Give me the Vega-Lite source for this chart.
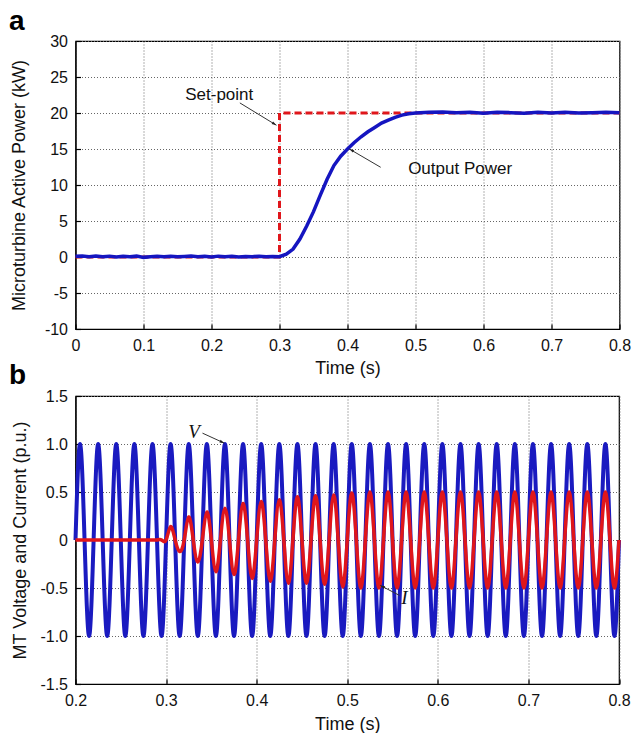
{
  "$schema": "https://vega.github.io/schema/vega-lite/v6.json",
  "background": "white",
  "padding": {"left": 7.5, "top": 7, "right": 2, "bottom": 1},
  "spacing": -17,
  "datasets": {
    "power": [
      {"t":0,"y":0.1},{"t":0.01,"y":0.15},{"t":0.02,"y":0.05},{"t":0.03,"y":0.15},{"t":0.04,"y":0.05},{"t":0.05,"y":0.12},{"t":0.06,"y":0.0},{"t":0.07,"y":0.1},{"t":0.08,"y":0.05},{"t":0.09,"y":0.12},
      {"t":0.1,"y":-0.05},{"t":0.11,"y":0.05},{"t":0.12,"y":0.12},{"t":0.13,"y":0.02},{"t":0.14,"y":0.1},{"t":0.15,"y":0.02},{"t":0.16,"y":0.08},{"t":0.17,"y":0.14},{"t":0.18,"y":0.05},{"t":0.19,"y":0.1},
      {"t":0.2,"y":0.0},{"t":0.21,"y":0.12},{"t":0.22,"y":0.05},{"t":0.23,"y":0.1},{"t":0.24,"y":0.0},{"t":0.25,"y":0.08},{"t":0.26,"y":0.05},{"t":0.27,"y":0.12},{"t":0.28,"y":0.02},{"t":0.29,"y":0.08},
      {"t":0.3,"y":0.05},{"t":0.31,"y":0.4},{"t":0.32,"y":1.1},{"t":0.33,"y":2.5},{"t":0.34,"y":4.3},{"t":0.35,"y":6.3},{"t":0.36,"y":8.6},{"t":0.37,"y":10.8},{"t":0.38,"y":12.7},{"t":0.39,"y":14.0},
      {"t":0.4,"y":15.0},{"t":0.41,"y":15.9},{"t":0.42,"y":16.7},{"t":0.43,"y":17.4},{"t":0.44,"y":18.0},{"t":0.45,"y":18.6},{"t":0.46,"y":19.0},{"t":0.47,"y":19.4},{"t":0.48,"y":19.7},{"t":0.49,"y":19.9},
      {"t":0.5,"y":20.0},{"t":0.52,"y":20.1},{"t":0.54,"y":20.15},{"t":0.56,"y":20.05},{"t":0.58,"y":20.1},{"t":0.6,"y":19.95},{"t":0.62,"y":20.1},{"t":0.64,"y":20.05},{"t":0.66,"y":19.95},{"t":0.68,"y":20.1},
      {"t":0.7,"y":20.0},{"t":0.72,"y":20.1},{"t":0.74,"y":20.0},{"t":0.76,"y":20.05},{"t":0.78,"y":20.1},{"t":0.8,"y":20.05}
    ],
    "setpoint": [
      {"t":0,"y":0},{"t":0.3,"y":0},{"t":0.3,"y":20},{"t":0.8,"y":20}
    ],
    "textA": [
      {"t":0.2114,"y":22.5,"label":"Set-point"},
      {"t":0.5656,"y":12.2,"label":"Output Power"}
    ],
    "arrowsA": [
      {"name":"set","t":0.2417,"y":21.4,"t2":0.2955,"y2":18.3},
      {"name":"out","t":0.4488,"y":12.46,"t2":0.4028,"y2":15.0}
    ],
    "headsA": [
      {"name":"set","t":0.2955,"y":18.3},
      {"name":"out","t":0.4028,"y":15.0}
    ],
    "V": [
      {"t":0.2,"y":0},{"t":0.205,"y":1},{"t":0.21,"y":0},{"t":0.215,"y":-1},
      {"t":0.22,"y":0},{"t":0.225,"y":1},{"t":0.23,"y":0},{"t":0.235,"y":-1},
      {"t":0.24,"y":0},{"t":0.245,"y":1},{"t":0.25,"y":0},{"t":0.255,"y":-1},
      {"t":0.26,"y":0},{"t":0.265,"y":1},{"t":0.27,"y":0},{"t":0.275,"y":-1},
      {"t":0.28,"y":0},{"t":0.285,"y":1},{"t":0.29,"y":0},{"t":0.295,"y":-1},
      {"t":0.3,"y":0},{"t":0.305,"y":1},{"t":0.31,"y":0},{"t":0.315,"y":-1},
      {"t":0.32,"y":0},{"t":0.325,"y":1},{"t":0.33,"y":0},{"t":0.335,"y":-1},
      {"t":0.34,"y":0},{"t":0.345,"y":1},{"t":0.35,"y":0},{"t":0.355,"y":-1},
      {"t":0.36,"y":0},{"t":0.365,"y":1},{"t":0.37,"y":0},{"t":0.375,"y":-1},
      {"t":0.38,"y":0},{"t":0.385,"y":1},{"t":0.39,"y":0},{"t":0.395,"y":-1},
      {"t":0.4,"y":0},{"t":0.405,"y":1},{"t":0.41,"y":0},{"t":0.415,"y":-1},
      {"t":0.42,"y":0},{"t":0.425,"y":1},{"t":0.43,"y":0},{"t":0.435,"y":-1},
      {"t":0.44,"y":0},{"t":0.445,"y":1},{"t":0.45,"y":0},{"t":0.455,"y":-1},
      {"t":0.46,"y":0},{"t":0.465,"y":1},{"t":0.47,"y":0},{"t":0.475,"y":-1},
      {"t":0.48,"y":0},{"t":0.485,"y":1},{"t":0.49,"y":0},{"t":0.495,"y":-1},
      {"t":0.5,"y":0},{"t":0.505,"y":1},{"t":0.51,"y":0},{"t":0.515,"y":-1},
      {"t":0.52,"y":0},{"t":0.525,"y":1},{"t":0.53,"y":0},{"t":0.535,"y":-1},
      {"t":0.54,"y":0},{"t":0.545,"y":1},{"t":0.55,"y":0},{"t":0.555,"y":-1},
      {"t":0.56,"y":0},{"t":0.565,"y":1},{"t":0.57,"y":0},{"t":0.575,"y":-1},
      {"t":0.58,"y":0},{"t":0.585,"y":1},{"t":0.59,"y":0},{"t":0.595,"y":-1},
      {"t":0.6,"y":0},{"t":0.605,"y":1},{"t":0.61,"y":0},{"t":0.615,"y":-1},
      {"t":0.62,"y":0},{"t":0.625,"y":1},{"t":0.63,"y":0},{"t":0.635,"y":-1},
      {"t":0.64,"y":0},{"t":0.645,"y":1},{"t":0.65,"y":0},{"t":0.655,"y":-1},
      {"t":0.66,"y":0},{"t":0.665,"y":1},{"t":0.67,"y":0},{"t":0.675,"y":-1},
      {"t":0.68,"y":0},{"t":0.685,"y":1},{"t":0.69,"y":0},{"t":0.695,"y":-1},
      {"t":0.7,"y":0},{"t":0.705,"y":1},{"t":0.71,"y":0},{"t":0.715,"y":-1},
      {"t":0.72,"y":0},{"t":0.725,"y":1},{"t":0.73,"y":0},{"t":0.735,"y":-1},
      {"t":0.74,"y":0},{"t":0.745,"y":1},{"t":0.75,"y":0},{"t":0.755,"y":-1},
      {"t":0.76,"y":0},{"t":0.765,"y":1},{"t":0.77,"y":0},{"t":0.775,"y":-1},
      {"t":0.78,"y":0},{"t":0.785,"y":1},{"t":0.79,"y":0},{"t":0.795,"y":-1},
      {"t":0.8,"y":0}
    ],
    "I": [
      {"t":0.2,"y":0},{"t":0.205,"y":0},{"t":0.21,"y":0},{"t":0.215,"y":0},
      {"t":0.22,"y":0},{"t":0.225,"y":0},{"t":0.23,"y":0},{"t":0.235,"y":0},
      {"t":0.24,"y":0},{"t":0.245,"y":0},{"t":0.25,"y":0},{"t":0.255,"y":0},
      {"t":0.26,"y":0},{"t":0.265,"y":0},{"t":0.27,"y":0},{"t":0.275,"y":0},
      {"t":0.28,"y":0},{"t":0.285,"y":0},{"t":0.29,"y":0},{"t":0.295,"y":0},
      {"t":0.3,"y":0},{"t":0.305,"y":0.14},{"t":0.31,"y":0},{"t":0.315,"y":-0.12},
      {"t":0.32,"y":0},{"t":0.325,"y":0.24},{"t":0.33,"y":0},{"t":0.335,"y":-0.23},
      {"t":0.34,"y":0},{"t":0.345,"y":0.29},{"t":0.35,"y":0},{"t":0.355,"y":-0.33},
      {"t":0.36,"y":0},{"t":0.365,"y":0.33},{"t":0.37,"y":0},{"t":0.375,"y":-0.36},
      {"t":0.38,"y":0},{"t":0.385,"y":0.38},{"t":0.39,"y":0},{"t":0.395,"y":-0.4},
      {"t":0.4,"y":0},{"t":0.405,"y":0.4},{"t":0.41,"y":0},{"t":0.415,"y":-0.43},
      {"t":0.42,"y":0},{"t":0.425,"y":0.42},{"t":0.43,"y":0},{"t":0.435,"y":-0.45},
      {"t":0.44,"y":0},{"t":0.445,"y":0.45},{"t":0.45,"y":0},{"t":0.455,"y":-0.45},
      {"t":0.46,"y":0},{"t":0.465,"y":0.46},{"t":0.47,"y":0},{"t":0.475,"y":-0.46},
      {"t":0.48,"y":0},{"t":0.485,"y":0.47},{"t":0.49,"y":0},{"t":0.495,"y":-0.49},
      {"t":0.5,"y":0},{"t":0.505,"y":0.49},{"t":0.51,"y":0},{"t":0.515,"y":-0.5},
      {"t":0.52,"y":0},{"t":0.525,"y":0.5},{"t":0.53,"y":0},{"t":0.535,"y":-0.5},
      {"t":0.54,"y":0},{"t":0.545,"y":0.5},{"t":0.55,"y":0},{"t":0.555,"y":-0.5},
      {"t":0.56,"y":0},{"t":0.565,"y":0.5},{"t":0.57,"y":0},{"t":0.575,"y":-0.5},
      {"t":0.58,"y":0},{"t":0.585,"y":0.5},{"t":0.59,"y":0},{"t":0.595,"y":-0.5},
      {"t":0.6,"y":0},{"t":0.605,"y":0.5},{"t":0.61,"y":0},{"t":0.615,"y":-0.5},
      {"t":0.62,"y":0},{"t":0.625,"y":0.5},{"t":0.63,"y":0},{"t":0.635,"y":-0.5},
      {"t":0.64,"y":0},{"t":0.645,"y":0.5},{"t":0.65,"y":0},{"t":0.655,"y":-0.5},
      {"t":0.66,"y":0},{"t":0.665,"y":0.5},{"t":0.67,"y":0},{"t":0.675,"y":-0.5},
      {"t":0.68,"y":0},{"t":0.685,"y":0.5},{"t":0.69,"y":0},{"t":0.695,"y":-0.5},
      {"t":0.7,"y":0},{"t":0.705,"y":0.5},{"t":0.71,"y":0},{"t":0.715,"y":-0.5},
      {"t":0.72,"y":0},{"t":0.725,"y":0.5},{"t":0.73,"y":0},{"t":0.735,"y":-0.5},
      {"t":0.74,"y":0},{"t":0.745,"y":0.5},{"t":0.75,"y":0},{"t":0.755,"y":-0.5},
      {"t":0.76,"y":0},{"t":0.765,"y":0.5},{"t":0.77,"y":0},{"t":0.775,"y":-0.5},
      {"t":0.78,"y":0},{"t":0.785,"y":0.5},{"t":0.79,"y":0},{"t":0.795,"y":-0.5},
      {"t":0.8,"y":0}
    ],
    "textB": [
      {"t":0.3308,"y":1.129,"label":"V"},
      {"t":0.5632,"y":-0.601,"label":"I"}
    ],
    "arrowsB": [
      {"name":"v","t":0.3402,"y":1.113,"t2":0.3643,"y2":1.009},
      {"name":"i","t":0.5576,"y":-0.577,"t2":0.5365,"y2":-0.473}
    ],
    "headsB": [
      {"name":"v","t":0.3643,"y":1.009},
      {"name":"i","t":0.5365,"y":-0.473}
    ]
  },
  "vconcat": [
    {
      "width": 544,
      "height": 288,
      "title": {"text": "a", "anchor": "start", "frame": "group", "dx": -66.5, "offset": -25, "baseline": "alphabetic", "fontSize": 28, "fontWeight": "bold", "font": "Liberation Sans", "color": "black"},
      "encoding": {
        "x": {"field": "t", "type": "quantitative", "title": "Time (s)",
              "scale": {"domain": [0, 0.8], "nice": false, "zero": false},
              "axis": {"values": [0,0.1,0.2,0.3,0.4,0.5,0.6,0.7,0.8], "labelExpr": "datum.value == 0 ? '0' : format(datum.value, '.1f')", "titleY": 39, "titleBaseline": "middle"}},
        "y": {"field": "y", "type": "quantitative", "title": "Microturbine Active Power (kW)",
              "scale": {"domain": [-10, 30], "nice": false},
              "axis": {"values": [-10,-5,0,5,10,15,20,25,30], "labelExpr": "(datum.value < 0 ? '-' : '') + format(abs(datum.value), 'd')", "titleX": -56, "titleBaseline": "middle"}}
      },
      "layer": [
        {"data": {"name": "setpoint"}, "mark": {"type": "line", "color": "#e0161b", "strokeWidth": 3, "strokeDash": [7, 4]}},
        {"data": {"name": "power"}, "mark": {"type": "line", "color": "#1515c0", "strokeWidth": 3.5}},
        {"data": {"name": "arrowsA"}, "mark": {"type": "rule", "color": "#333333", "strokeWidth": 1},
         "encoding": {"x2": {"field": "t2"}, "y2": {"field": "y2"}}},
        {"data": {"name": "headsA"}, "transform": [{"filter": "datum.name == 'set'"}],
         "mark": {"type": "point", "shape": "M0,0L-0.45,1.5L0.45,1.5Z", "filled": true, "color": "#222222", "opacity": 1, "size": 40, "angle": 120.7}},
        {"data": {"name": "headsA"}, "transform": [{"filter": "datum.name == 'out'"}],
         "mark": {"type": "point", "shape": "M0,0L-0.45,1.5L0.45,1.5Z", "filled": true, "color": "#222222", "opacity": 1, "size": 40, "angle": 300}},
        {"data": {"name": "textA"}, "mark": {"type": "text", "font": "Liberation Sans", "fontSize": 17, "color": "#111111", "align": "center", "baseline": "middle"},
         "encoding": {"text": {"field": "label"}}}
      ]
    },
    {
      "width": 543.5,
      "height": 288,
      "title": {"text": "b", "anchor": "start", "frame": "group", "dx": -66.5, "offset": -24, "baseline": "alphabetic", "fontSize": 28, "fontWeight": "bold", "font": "Liberation Sans", "color": "black"},
      "encoding": {
        "x": {"field": "t", "type": "quantitative", "title": "Time (s)",
              "scale": {"domain": [0.2, 0.8], "nice": false, "zero": false},
              "axis": {"values": [0.2,0.3,0.4,0.5,0.6,0.7,0.8], "labelExpr": "format(datum.value, '.1f')", "titleY": 40, "titleBaseline": "middle"}},
        "y": {"field": "y", "type": "quantitative", "title": "MT Voltage and Current (p.u.)",
              "scale": {"domain": [-1.5, 1.5], "nice": false},
              "axis": {"values": [-1.5,-1,-0.5,0,0.5,1,1.5], "labelExpr": "datum.value == 0 ? '0' : (datum.value < 0 ? '-' : '') + format(abs(datum.value), '.1f')", "titleX": -55.5, "titleBaseline": "middle"}}
      },
      "layer": [
        {"data": {"name": "V"}, "mark": {"type": "line", "color": "#1a1ac0", "strokeWidth": 4, "interpolate": "natural"}},
        {"data": {"name": "I"}, "mark": {"type": "line", "color": "#e0161b", "strokeWidth": 3.5, "interpolate": "natural"}},
        {"data": {"name": "arrowsB"}, "mark": {"type": "rule", "color": "#333333", "strokeWidth": 1},
         "encoding": {"x2": {"field": "t2"}, "y2": {"field": "y2"}}},
        {"data": {"name": "headsB"}, "transform": [{"filter": "datum.name == 'v'"}],
         "mark": {"type": "point", "shape": "M0,0L-0.45,1.5L0.45,1.5Z", "filled": true, "color": "#222222", "opacity": 1, "size": 40, "angle": 114.8}},
        {"data": {"name": "headsB"}, "transform": [{"filter": "datum.name == 'i'"}],
         "mark": {"type": "point", "shape": "M0,0L-0.45,1.5L0.45,1.5Z", "filled": true, "color": "#222222", "opacity": 1, "size": 40, "angle": 297.8}},
        {"data": {"name": "textB"}, "mark": {"type": "text", "font": "Liberation Serif", "fontStyle": "italic", "fontSize": 19, "color": "#111111", "align": "center", "baseline": "middle"},
         "encoding": {"text": {"field": "label"}}}
      ]
    }
  ],
  "config": {
    "font": "Liberation Sans",
    "view": {"stroke": "black", "strokeWidth": 1.2},
    "axis": {
      "labelFont": "Liberation Sans", "labelFontSize": 16, "labelColor": "#111111",
      "titleFont": "Liberation Sans", "titleFontSize": 18, "titleFontWeight": "normal", "titleColor": "#111111",
      "gridColor": "#666666", "gridDash": [1, 2], "gridWidth": 1, "gridOpacity": 1,
      "domainColor": "black", "domainWidth": 1.2,
      "tickColor": "black", "tickSize": -5, "tickWidth": 1.2,
      "labelPadding": 13, "labelFlush": false, "labelOverlap": false
    }
  }
}
